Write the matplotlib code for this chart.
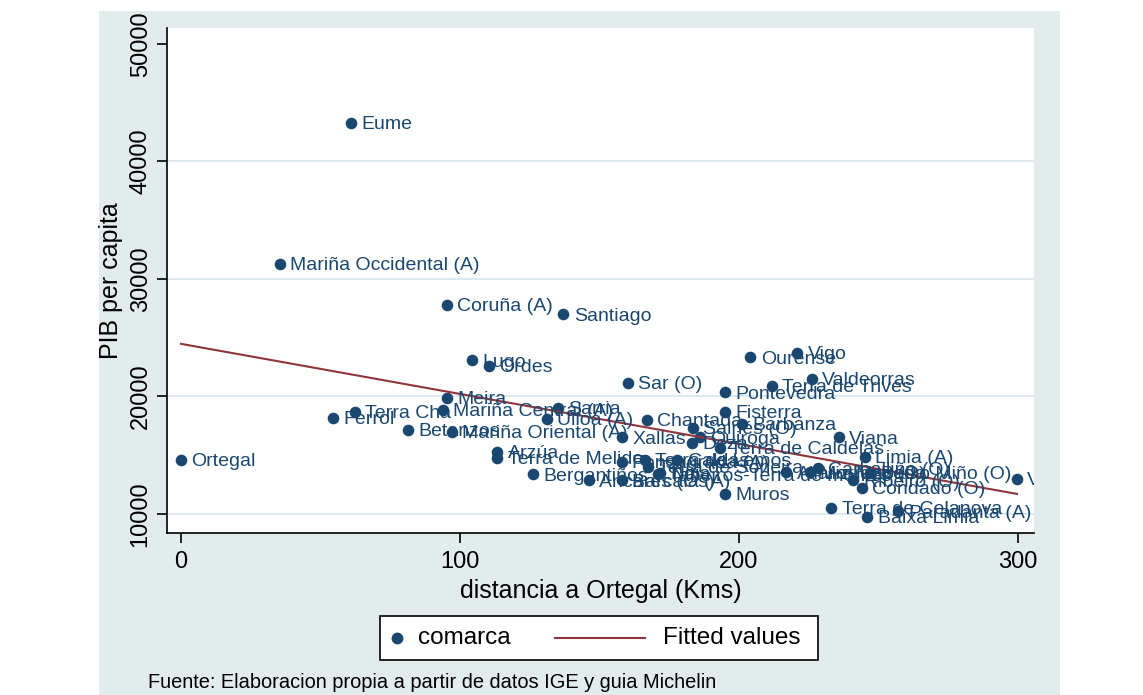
import matplotlib.pyplot as plt
import numpy as np
from matplotlib.lines import Line2D
from matplotlib.patches import Rectangle

plt.rcParams['font.family'] = ['Liberation Sans', 'DejaVu Sans']

# comarcas: name, distance to Ortegal (km), GDP per capita
comarcas = ['Ortegal', 'Eume', 'Mariña Occidental (A)', 'Coruña (A)', 'Santiago',
            'Lugo', 'Ordes', 'Sar (O)', 'Ourense', 'Vigo', 'Valdeorras',
            'Terra de Trives', 'Pontevedra', 'Meira', 'Fisterra', 'Terra Cha',
            'Ferrol', 'Mariña Central (A)', 'Sarria', 'Ulloa (A)', 'Chantada',
            'Betanzos', 'Mariña Oriental (A)', 'Xallas', 'Arzúa', 'Terra de Melide',
            'Bergantiños', 'Salnés (O)', 'Barbanza', 'Quiroga', 'Deza',
            'Terra de Caldelas', 'Viana', 'Limia (A)', 'Verín', 'Condado (O)',
            'Terra de Celanova', 'Paradanta (A)', 'Baixa Limia', 'Muros',
            'Fonsagrada (A)', 'Terra de Lemos', 'Caldas', 'Terra de Soneira',
            'Tabeirós-Terra de montes', 'Barcala (A)', 'Ancares (Os)', 'Noia',
            'Allariz-Maceda', 'Morrazo (O)', 'Carballiño (O)', 'Ribeiro (O)',
            'Baixo Miño (O)']
distancia = [0, 61, 35.5, 95.3, 137,
             104.3, 110.4, 160.2, 204, 220.8, 226,
             211.8, 195, 95.3, 195, 62.4,
             54.5, 93.9, 135, 131, 167,
             81.4, 97.1, 158, 113.3, 113.3,
             126, 183.5, 201, 186, 183,
             193, 235.8, 245, 299.6, 244,
             233, 257, 245.9, 195,
             158, 166.3, 177.8, 167.4,
             171, 158, 146.2, 171.7,
             217, 225.4, 228.3, 240.9,
             247]
pib = [14600, 43300, 31300, 27800, 27000,
       23100, 22600, 21150, 23350, 23700, 21500,
       20900, 20380, 19870, 18680, 18680,
       18170, 18850, 19020, 18085, 18000,
       17150, 16980, 16550, 15280, 14770,
       13400, 17320, 17660, 16550, 16040,
       15620, 16550, 14850, 12980, 12210,
       10510, 10250, 9750, 11700,
       14430, 14600, 14600, 14000,
       13400, 12890, 12890, 13490,
       13570, 13570, 13910, 12890,
       13490]

xticks = [0, 100, 200, 300]
yticks = [10000, 20000, 30000, 40000, 50000]

navy = '#1a476f'
maroon = '#90353b'
bg = '#e2ecec'

W, H = 1143, 695


def fx(px):
    return px / W


def fy(py):
    return 1 - py / H


x = np.array(distancia)
y = np.array(pib)
slope, intercept = np.polyfit(x, y, 1)

fig = plt.figure(figsize=(W / 100, H / 100), dpi=100)
fig.patches.append(Rectangle((fx(99), 0), fx(1060) - fx(99), fy(11),
                             transform=fig.transFigure, facecolor=bg,
                             edgecolor='none', zorder=-10))
ax = fig.add_axes([fx(167), fy(533), fx(1034) - fx(167), fy(28) - fy(533)])
ax.set_facecolor('white')

for v in yticks[:-1]:
    ax.axhline(v, color='#d5e5ea', lw=1.2, zorder=0)

ax.scatter(x, y, s=70, color=navy, zorder=3, linewidths=0)
xs = np.array([x.min(), x.max()])
ax.plot(xs, intercept + slope * xs, color=maroon, lw=1.5, zorder=4)

for name, xi, yi in zip(comarcas, distancia, pib):
    ax.annotate(name, (xi, yi), xytext=(7.5, 0), textcoords='offset points',
                va='center_baseline', ha='left', fontsize=14, color=navy,
                clip_on=True, zorder=5)

ax.set_xlim(-5, 305.7)
ax.set_ylim(8380, 51360)
for s in ['top', 'right']:
    ax.spines[s].set_visible(False)
for s in ['left', 'bottom']:
    ax.spines[s].set_linewidth(1.2)

ax.set_xticks(xticks)
ax.set_xticklabels([str(t) for t in xticks], fontsize=17)
ax.set_yticks(yticks)
ax.set_yticklabels([str(t) for t in yticks], fontsize=17, rotation=90, va='center')
ax.tick_params(length=7, width=1.2)
ax.tick_params(axis='x', pad=6)
ax.tick_params(axis='y', pad=4)
ax.set_xlabel('distancia a Ortegal (Kms)', fontsize=18, labelpad=4)
ax.set_ylabel('PIB per capita', fontsize=18, labelpad=5)

# legend box, laid out as in the original
fig.patches.append(Rectangle((fx(380), fy(660)), fx(818) - fx(380), fy(616) - fy(660),
                             transform=fig.transFigure, facecolor='white',
                             edgecolor='black', lw=1.2, zorder=5))
ly = fy(638)
fig.lines.append(Line2D([fx(397)], [ly], ls='none', marker='o', ms=7.5,
                        color=navy, transform=fig.transFigure, zorder=6))
fig.text(fx(418), ly, 'comarca', fontsize=17.5, va='center', ha='left', zorder=6)
fig.lines.append(Line2D([fx(555), fx(645)], [ly, ly], color=maroon, lw=1.5,
                        transform=fig.transFigure, zorder=6))
fig.text(fx(663), ly, 'Fitted values', fontsize=17.5, va='center', ha='left', zorder=6)

fig.text(fx(148), fy(683), 'Fuente: Elaboracion propia a partir de datos IGE y guia Michelin',
         fontsize=14.4, va='center', ha='left')

fig.savefig('out.png', dpi=100, facecolor='white')
